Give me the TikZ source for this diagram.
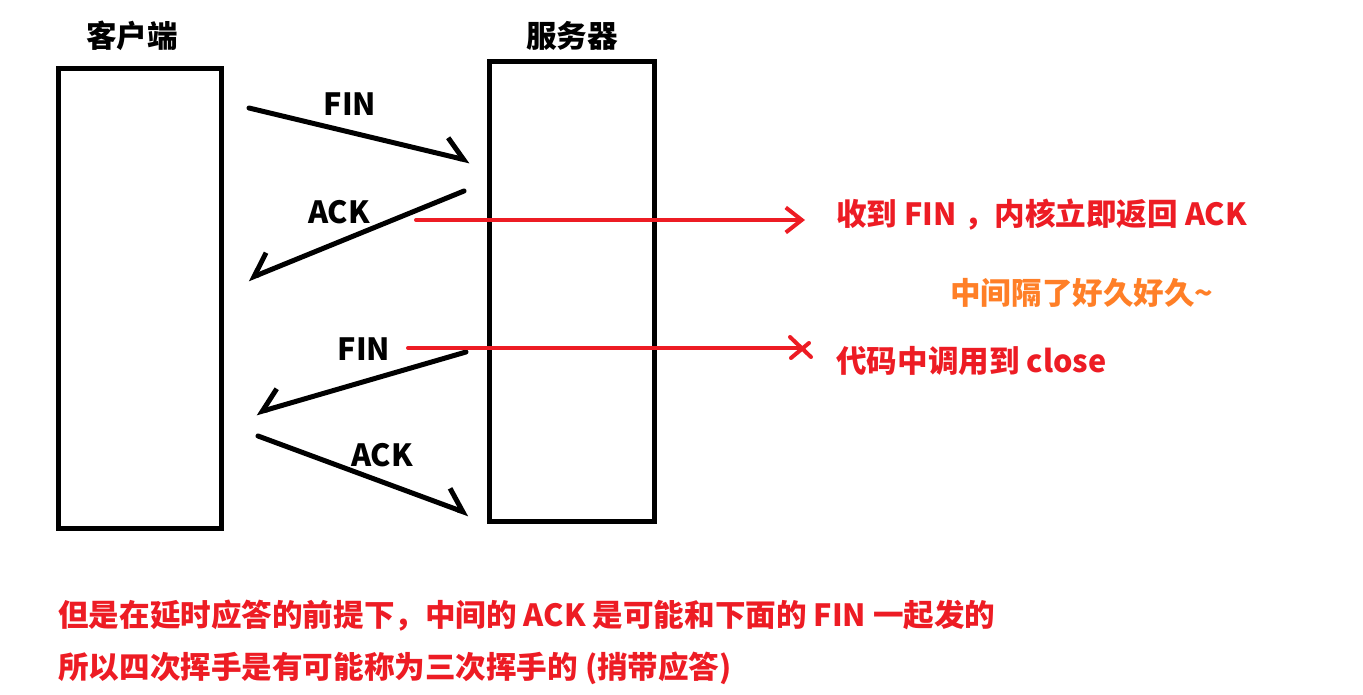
\documentclass[tikz,border=0pt]{standalone}
\usepackage{fontspec}
\setmainfont{Noto Sans CJK SC}
\usetikzlibrary{arrows.meta}
\definecolor{paintred}{RGB}{237,28,36}
\definecolor{paintorange}{RGB}{255,127,39}
\tikzset{
 host/.style={draw,line width=.1cm,minimum width=3.28cm,minimum height=9.22cm,inner sep=0pt},
 msg/.style={line width=.1cm,line cap=round},
 hookl/.style={-{Straight Barb[left,length=.4cm,width=.7cm]}},
 hookr/.style={-{Straight Barb[right,length=.4cm,width=.7cm]}},
 lbl/.style={font=\bfseries\fontsize{17.4}{20}\selectfont,inner sep=0pt},
 note/.style={lbl,anchor=west,text=paintred},
 link/.style={paintred,line width=.08cm,line cap=round},
}
\begin{document}
\begin{tikzpicture}[x=.02cm,y=-.02cm]
 \useasboundingbox (0,0) rectangle (1363,695);
 \node[host] (client) at (140,298.5) {};
 \node[host,minimum width=3.32cm] (server) at (572,291.5) {};
 \node[lbl] (clientname) at (132,36) {客户端};
 \node[lbl] (servername) at (572,36) {服务器};

 \coordinate (fin1a) at (249,108); \coordinate (fin1b) at (470,161);
 \coordinate (ack1a) at (464,191); \coordinate (ack1b) at (248,279);
 \coordinate (fin2a) at (466,352); \coordinate (fin2b) at (256,413);
 \coordinate (ack2a) at (258,436); \coordinate (ack2b) at (469,514);
 \draw[msg,hookl] (fin1a)--(fin1b);
 \draw[msg,hookr] (ack1a)--(ack1b);
 \draw[msg,hookr] (fin2a)--(fin2b);
 \draw[msg,hookl] (ack2a)--(ack2b);
 \node[lbl] (fin1) at (350,104) {FIN};
 \node[lbl] (ack1) at (339,212) {ACK};
 \node[lbl] (fin2) at (364,349) {FIN};
 \node[lbl] (ack2) at (382,455) {ACK};

 \node[note] (recv) at (836,215) {收到 FIN ，内核立即返回 ACK};
 \node[note,text=paintorange] (wait) at (950,293) {中间隔了好久好久\textasciitilde};
 \node[note] (close) at (836,361) {代码中调用到 close};
 \coordinate (recvfrom) at (416,220); \coordinate (recvto) at (805,220);
 \coordinate (closefrom) at (408,348); \coordinate (closeto) at (800,348);
 \draw[link,-{Straight Barb[length=.32cm,width=.5cm]}] (recvfrom)--(recvto);
 \draw[link] (closefrom)--(closeto);
 \draw[link] (closeto) ++(-10,-11)--++(21,20) (closeto) ++(-9,10)--++(18,-15);

 \node[note] (delay) at (58,616) {但是在延时应答的前提下，中间的 ACK 是可能和下面的 FIN 一起发的};
 \node[note] (three) at (58,668) {所以四次挥手是有可能称为三次挥手的 (捎带应答)};
\end{tikzpicture}
\end{document}
